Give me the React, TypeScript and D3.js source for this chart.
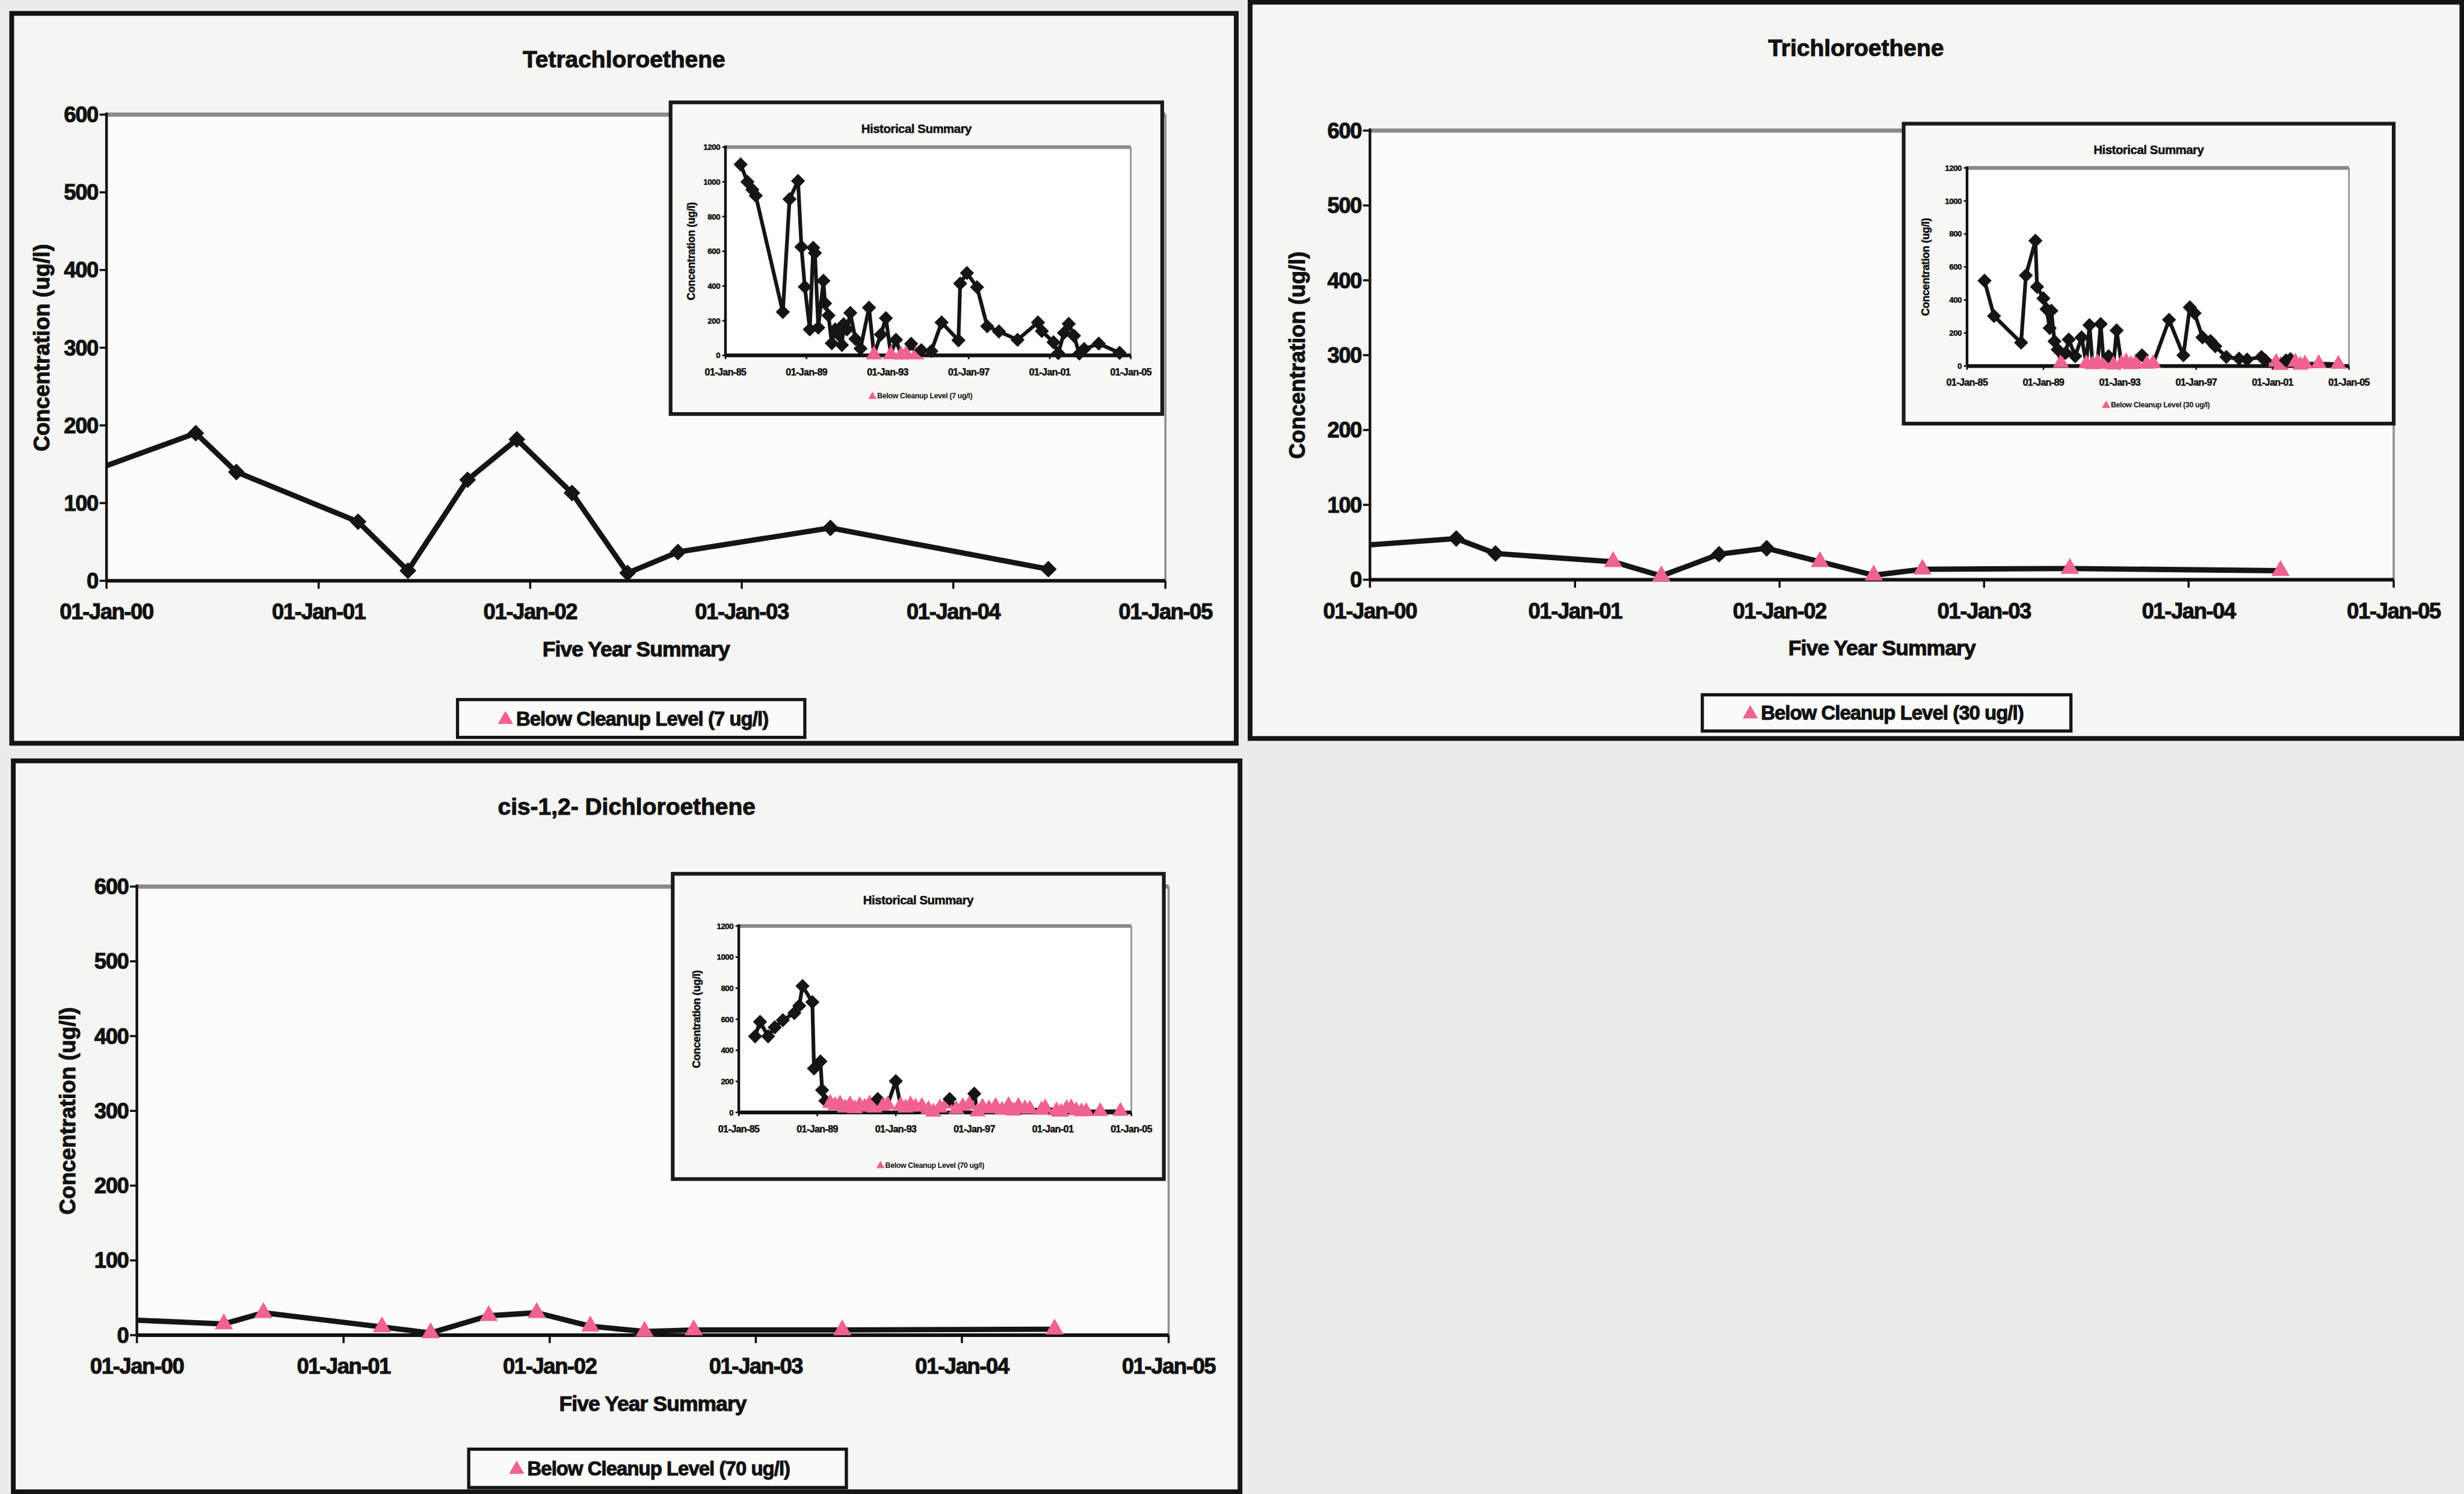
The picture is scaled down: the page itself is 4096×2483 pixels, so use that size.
import React from "react";
import * as d3 from "d3";

// sampling dates of the five-year summary (shared by all three compounds)
const fiveYearDates = [
  "2000-06-03", "2000-08-12", "2001-03-10", "2001-06-04", "2001-09-15", "2001-12-09",
  "2002-03-14", "2002-06-18", "2002-09-13", "2003-06-03", "2004-06-13",
];
const pceFiveYear = [190, 140, 76, 13, 130, 182, 113, 10, 37, 68, 15];
const tceFiveYear = [55, 35, 24, 5, 34, 42, 24, 6, 14, 15, 12];
const dceFiveYear = [15, 30, 11, 3, 26, 30, 12, 5, 7, 7, 8];

const pceHistory: [string, number][] = [
  ["1985-10", 1100], ["1986-02", 1000], ["1986-05", 955], ["1986-07", 920], ["1987-11", 250],
  ["1988-03", 900], ["1988-08", 1005], ["1988-10", 625], ["1988-12", 395], ["1989-03", 150],
  ["1989-05", 620], ["1989-06", 590], ["1989-08", 160], ["1989-11", 430], ["1989-12", 300],
  ["1990-02", 230], ["1990-04", 70], ["1990-06", 150], ["1990-08", 120], ["1990-10", 60],
  ["1990-11", 180], ["1991-01", 150], ["1991-03", 245], ["1991-06", 95], ["1991-09", 40],
  ["1992-02", 275], ["1992-05", 4], ["1992-09", 120], ["1992-12", 215], ["1993-03", 5],
  ["1993-06", 90], ["1993-09", 3], ["1993-12", 6], ["1994-03", 67], ["1994-06", 4],
  ["1994-09", 30], ["1995-03", 25], ["1995-09", 190], ["1996-07", 87], ["1996-08", 414],
  ["1996-12", 475], ["1997-06", 393], ["1997-12", 168], ["1998-07", 138], ["1999-06", 90],
];
const tceHistory: [string, number][] = [
  ["1985-12", 517], ["1986-06", 303], ["1987-11", 142], ["1988-02", 549], ["1988-08", 759],
  ["1988-09", 480], ["1989-01", 410], ["1989-03", 345], ["1989-05", 230], ["1989-06", 335],
  ["1989-08", 150], ["1989-10", 100], ["1989-12", 20], ["1990-03", 80], ["1990-05", 161],
  ["1990-09", 60], ["1991-01", 174], ["1991-04", 15], ["1991-06", 248], ["1991-08", 10],
  ["1991-11", 20], ["1992-01", 255], ["1992-03", 12], ["1992-06", 60], ["1992-09", 8],
  ["1992-11", 216], ["1993-02", 15], ["1993-05", 25], ["1993-08", 10], ["1993-11", 20],
  ["1994-03", 65], ["1994-06", 12], ["1994-10", 15], ["1995-08", 280], ["1996-05", 65],
  ["1996-09", 356], ["1996-12", 320], ["1997-05", 174], ["1997-10", 152], ["1998-01", 120],
  ["1998-08", 55], ["1999-04", 45], ["1999-09", 40],
];
const dceHistory: [string, number][] = [
  ["1985-11", 490], ["1986-02", 583], ["1986-07", 490], ["1986-11", 548], ["1987-04", 594],
  ["1987-11", 640], ["1988-02", 687], ["1988-04", 814], ["1988-10", 710], ["1988-11", 283],
  ["1989-03", 329], ["1989-04", 144], ["1989-06", 75], ["1989-09", 60], ["1989-12", 45],
  ["1990-03", 55], ["1990-06", 30], ["1990-09", 50], ["1990-12", 25], ["1991-03", 45],
  ["1991-06", 35], ["1991-09", 55], ["1991-12", 30], ["1992-02", 87], ["1992-05", 40],
  ["1992-08", 50], ["1993-01", 202], ["1993-04", 45], ["1993-07", 30], ["1993-10", 50],
  ["1994-01", 35], ["1994-05", 40], ["1994-09", 20], ["1994-12", 3], ["1995-04", 30],
  ["1995-08", 55], ["1995-10", 87], ["1996-02", 20], ["1996-06", 40], ["1996-10", 50],
  ["1997-01", 121], ["1997-03", 5], ["1997-06", 35], ["1997-10", 25], ["1998-02", 40],
  ["1998-06", 15], ["1998-10", 45], ["1999-01", 10], ["1999-04", 40], ["1999-08", 25],
  ["1999-11", 22],
];

const mainYTicks = [0, 100, 200, 300, 400, 500, 600];
const mainXTicks = ["2000-01-01", "2001-01-01", "2002-01-01", "2003-01-01", "2004-01-01", "2005-01-01"];
const insetYTicks = [0, 200, 400, 600, 800, 1000, 1200];
const insetXTicks = ["1985-01-01", "1989-01-01", "1993-01-01", "1997-01-01", "2001-01-01", "2005-01-01"];

const PINK = "#f0628f";
const FONT = "'Liberation Sans', Arial, Helvetica, sans-serif";

const parseDay = d3.timeParse("%Y-%m-%d");
const parseMonth = d3.timeParse("%Y-%m");
const fmt = d3.timeFormat("%d-%b-%y");

type Pt = { date: Date; value: number };

function buildSeries(history: [string, number][], fiveYear: number[]): Pt[] {
  const old = history.map(([d, v]) => ({ date: parseMonth(d) as Date, value: v }));
  const recent = fiveYearDates.map((d, i) => ({ date: parseDay(d) as Date, value: fiveYear[i] }));
  return old.concat(recent);
}

// geometry in reference pixels (viewBox is the reference size, scaled to the window)
const panels = [
  {
    key: "pce", title: "Tetrachloroethene", level: 7, history: pceHistory, fiveYear: pceFiveYear,
    box: [22, 25, 2321, 1395], plot: [200, 215, 2188, 1090], yLabelX: 78,
    legend: [859, 1313, 1511, 1384],
    inset: [1259, 192, 2182, 777], insetPlot: [1362, 276, 2123, 667], insetYLabelX: 1298,
    insetLegend: [1638, 743],
  },
  {
    key: "tce", title: "Trichloroethene", level: 30, history: tceHistory, fiveYear: tceFiveYear,
    box: [2347, 4, 4622, 1386], plot: [2572, 245, 4494, 1088], yLabelX: 2435,
    legend: [3196, 1304, 3888, 1372],
    inset: [3574, 232, 4494, 795], insetPlot: [3693, 315, 4410, 687], insetYLabelX: 3615,
    insetLegend: [3954, 760],
  },
  {
    key: "dce", title: "cis-1,2- Dichloroethene", level: 70, history: dceHistory, fiveYear: dceFiveYear,
    box: [25, 1428, 2328, 2800], plot: [257, 1664, 2194, 2506], yLabelX: 127,
    legend: [880, 2720, 1589, 2792],
    inset: [1263, 1640, 2185, 2213], insetPlot: [1387, 1738, 2124, 2088], insetYLabelX: 1308,
    insetLegend: [1653, 2187],
  },
];

type PanelCfg = typeof panels[number];

function Markers({ data, x, y, level, dSize, tSize }: any) {
  const diamond = d3.symbol(d3.symbolSquare, dSize)() as string;
  const tri = d3.symbol(d3.symbolTriangle, tSize)() as string;
  return (
    <g>
      {data.map((d: Pt, i: number) =>
        d.value < level ? (
          <path key={i} d={tri} transform={`translate(${x(d.date)},${y(d.value)})`} fill={PINK} stroke={PINK} strokeWidth={1.5} />
        ) : (
          <path key={i} d={diamond} transform={`translate(${x(d.date)},${y(d.value)}) rotate(45)`} fill="#151515" stroke="#151515" strokeWidth={1.5} />
        )
      )}
    </g>
  );
}

// bold scanned text looks heavier than a plain bold face
const heavy = { stroke: "#111", strokeWidth: 1.2 };
const heavySmall = { stroke: "#111", strokeWidth: 0.6 };

function Panel({ p }: { p: PanelCfg }) {
  const [bx0, by0, bx1, by1] = p.box;
  const [px0, py0, px1, py1] = p.plot;
  const data = buildSeries(p.history, p.fiveYear);

  const x = d3.scaleTime()
    .domain([parseDay(mainXTicks[0]) as Date, parseDay(mainXTicks[mainXTicks.length - 1]) as Date])
    .range([px0, px1]);
  const y = d3.scaleLinear().domain([0, 600]).range([py1, py0]);
  const line = d3.line<Pt>().x((d) => x(d.date)).y((d) => y(d.value));

  const [ix0, iy0, ix1, iy1] = p.inset;
  const [qx0, qy0, qx1, qy1] = p.insetPlot;
  const xi = d3.scaleTime()
    .domain([parseDay(insetXTicks[0]) as Date, parseDay(insetXTicks[insetXTicks.length - 1]) as Date])
    .range([qx0, qx1]);
  const yi = d3.scaleLinear().domain([0, 1200]).range([qy1, qy0]);
  const lineI = d3.line<Pt>().x((d) => xi(d.date)).y((d) => yi(d.value));

  const [lx0, ly0, lx1, ly1] = p.legend;
  const lyc = (ly0 + ly1) / 2;
  const legendText = `Below Cleanup Level (${p.level} ug/l)`;
  const tri = d3.symbol(d3.symbolTriangle, 360)() as string;
  const triSmall = d3.symbol(d3.symbolTriangle, 110)() as string;
  const clipId = `clip-${p.key}`;

  return (
    <g fontFamily={FONT} fontWeight={700} fill="#111">
      <rect x={bx0} y={by0} width={bx1 - bx0} height={by1 - by0} fill="#f5f5f3" stroke="#141414" strokeWidth={9} />
      <text x={(bx0 + bx1) / 2} y={by0 + 86} dy="0.35em" textAnchor="middle" fontSize={44} {...heavy}>{p.title}</text>

      {/* main plot */}
      <rect x={px0} y={py0} width={px1 - px0} height={py1 - py0} fill="#fcfcfb" />
      <line x1={px0} x2={px1} y1={py0} y2={py0} stroke="#8a8a8a" strokeWidth={8} />
      <line x1={px1} x2={px1} y1={py0} y2={py1} stroke="#8f8f8f" strokeWidth={4} />
      <line x1={px0} x2={px0} y1={py0 - 4} y2={py1} stroke="#111" strokeWidth={5} />
      <line x1={px0} x2={px1} y1={py1} y2={py1} stroke="#111" strokeWidth={7} />
      {mainYTicks.map((t) => (
        <g key={t}>
          <line x1={px0 - 13} x2={px0} y1={y(t)} y2={y(t)} stroke="#111" strokeWidth={4} />
          <text x={px0 - 16} y={y(t)} dy="0.35em" textAnchor="end" fontSize={41} letterSpacing={-1.5} {...heavy}>{t}</text>
        </g>
      ))}
      {mainXTicks.map((t) => {
        const d = parseDay(t) as Date;
        return (
          <g key={t}>
            <line x1={x(d)} x2={x(d)} y1={py1} y2={py1 + 15} stroke="#111" strokeWidth={4} />
            <text x={x(d)} y={py1 + 58} dy="0.35em" textAnchor="middle" fontSize={41} letterSpacing={-1.5} {...heavy}>{fmt(d)}</text>
          </g>
        );
      })}
      <text x={(px0 + px1) / 2} y={py1 + 128} dy="0.35em" textAnchor="middle" fontSize={40} letterSpacing={-1} {...heavy}>Five Year Summary</text>
      <text transform={`translate(${p.yLabelX},${(py0 + py1) / 2}) rotate(-90)`} dy="0.35em" textAnchor="middle" fontSize={41} {...heavy}>Concentration (ug/l)</text>

      <clipPath id={clipId}>
        <rect x={px0} y={py0 - 60} width={px1 - px0} height={py1 - py0 + 120} />
      </clipPath>
      <g clipPath={`url(#${clipId})`}>
        <path d={line(data) as string} fill="none" stroke="#151515" strokeWidth={10} strokeLinejoin="round" />
        <Markers data={data} x={x} y={y} level={p.level} dSize={430} tSize={440} />
      </g>

      {/* legend */}
      <rect x={lx0} y={ly0} width={lx1 - lx0} height={ly1 - ly0} fill="#fbfbfa" stroke="#141414" strokeWidth={6} />
      <path d={tri} transform={`translate(${lx0 + 90},${lyc + 2})`} fill={PINK} />
      <text x={lx0 + 110} y={lyc} dy="0.35em" fontSize={37} letterSpacing={-1} {...heavy}>{legendText}</text>

      {/* historical inset */}
      <rect x={ix0} y={iy0} width={ix1 - ix0} height={iy1 - iy0} fill="#f8f8f6" stroke="#1a1a1a" strokeWidth={7} />
      <text x={(ix0 + ix1) / 2} y={iy0 + 49} dy="0.35em" textAnchor="middle" fontSize={23} letterSpacing={-0.5} {...heavySmall}>Historical Summary</text>
      <rect x={qx0} y={qy0} width={qx1 - qx0} height={qy1 - qy0} fill="#fefefd" />
      <line x1={qx0} x2={qx1} y1={qy0} y2={qy0} stroke="#8a8a8a" strokeWidth={7} />
      <line x1={qx1} x2={qx1} y1={qy0} y2={qy1} stroke="#8f8f99" strokeWidth={3} />
      <line x1={qx0} x2={qx0} y1={qy0 - 3} y2={qy1} stroke="#111" strokeWidth={5} />
      <line x1={qx0} x2={qx1} y1={qy1} y2={qy1} stroke="#111" strokeWidth={7} />
      {insetYTicks.map((t) => (
        <g key={t}>
          <line x1={qx0 - 6} x2={qx0} y1={yi(t)} y2={yi(t)} stroke="#111" strokeWidth={3} />
          <text x={qx0 - 10} y={yi(t)} dy="0.35em" textAnchor="end" fontSize={15} letterSpacing={-0.5} {...heavySmall}>{t}</text>
        </g>
      ))}
      {insetXTicks.map((t) => {
        const d = parseDay(t) as Date;
        return (
          <g key={t}>
            <line x1={xi(d)} x2={xi(d)} y1={qy1} y2={qy1 + 7} stroke="#111" strokeWidth={3} />
            <text x={xi(d)} y={qy1 + 31} dy="0.35em" textAnchor="middle" fontSize={18} letterSpacing={-0.6} {...heavySmall}>{fmt(d)}</text>
          </g>
        );
      })}
      <text transform={`translate(${p.insetYLabelX},${(qy0 + qy1) / 2}) rotate(-90)`} dy="0.35em" textAnchor="middle" fontSize={20} letterSpacing={-0.3} {...heavySmall}>Concentration (ug/l)</text>
      <path d={lineI(data) as string} fill="none" stroke="#151515" strokeWidth={7} strokeLinejoin="round" />
      <Markers data={data} x={xi} y={yi} level={p.level} dSize={300} tSize={330} />
      <path d={triSmall} transform={`translate(${p.insetLegend[0]},${p.insetLegend[1] + 1})`} fill={PINK} />
      <text x={p.insetLegend[0] + 9} y={p.insetLegend[1]} dy="0.35em" fontSize={14} letterSpacing={-0.4}>{legendText}</text>
    </g>
  );
}

export default function App() {
  return (
    <svg
      width={4096}
      height={2483}
      viewBox="0 0 4626 2804"
      style={{ position: "fixed", top: 0, left: 0, display: "block", background: "#ececea" }}
    >
      <rect x={0} y={0} width={4626} height={2804} fill="#ececea" />
      {panels.map((p) => (
        <Panel key={p.key} p={p} />
      ))}
    </svg>
  );
}
